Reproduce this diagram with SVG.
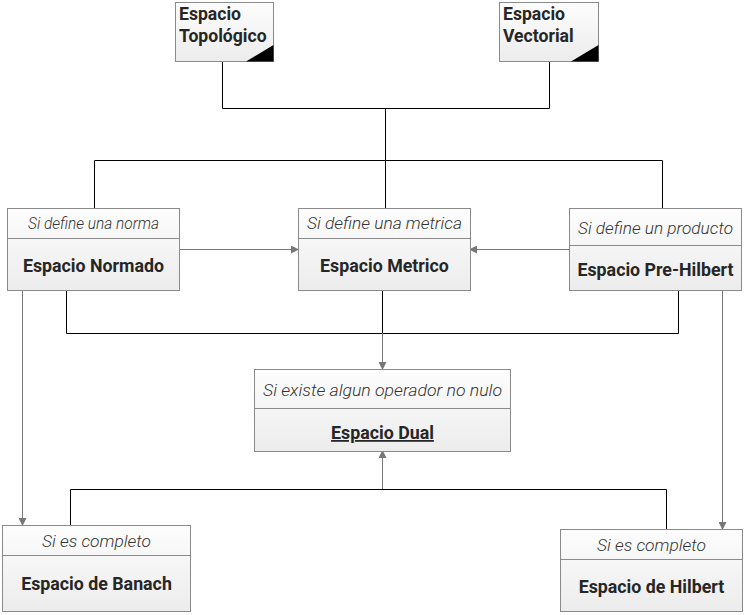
<svg xmlns="http://www.w3.org/2000/svg" width="748" height="615" viewBox="0 0 748 615">
<defs>
<linearGradient id="g" x1="0" y1="0" x2="0" y2="1"><stop offset="0" stop-color="#fdfdfd"/><stop offset="1" stop-color="#ececec"/></linearGradient>
<marker id="ah" markerWidth="8" markerHeight="8" refX="7" refY="4" orient="auto" markerUnits="userSpaceOnUse"><path d="M0,0 L8,4 L0,8 Z" fill="#777"/></marker>
</defs>
<style>
.box{fill:url(#g);stroke:#8a8a8a;stroke-width:1}
.div{stroke:#8a8a8a;stroke-width:1}
.hd{font-family:Roboto,"Liberation Sans",sans-serif;font-style:italic;font-weight:300;font-size:16px;fill:#333;text-anchor:middle}
.tt{font-family:Roboto,"Liberation Sans",sans-serif;font-weight:bold;font-size:17.8px;fill:#262626;text-anchor:middle}
.tl{font-family:Roboto,"Liberation Sans",sans-serif;font-weight:bold;font-size:17.6px;fill:#262626}
.blk{fill:none;stroke:#000;stroke-width:1}
.gry{fill:none;stroke:#777;stroke-width:1;marker-end:url(#ah)}
</style>
<g id="connectors">
<path class="blk" d="M222.5,61 V108.5 H549.5 V61"/>
<path class="blk" d="M385.5,108 V160.5"/>
<path class="blk" d="M94.5,208 V160.5 H662.5 V208"/>
<path class="blk" d="M385.5,160 V208"/>
<path class="gry" d="M179,249.5 H298"/>
<path class="gry" d="M569,249.5 H470"/>
<path class="blk" d="M66.5,290 V333.5 H678.5 V290"/>
<path class="blk" d="M382.5,290 V333"/>
<path class="gry" d="M382.5,333 V369"/>
<path class="gry" d="M22.5,290 V525"/>
<path class="gry" d="M722.5,290 V529"/>
<path class="blk" d="M70.5,525 V489.5 H666.5 V529"/>
<path class="gry" d="M382.5,489 V451"/>
</g>
<g id="topologico">
<rect class="box" x="175.5" y="2.5" width="98" height="59"/>
<polygon points="246,61.5 273.5,61.5 273.5,45" fill="#000"/>
<text class="tl" x="179" y="20">Espacio</text>
<text class="tl" x="179" y="42">Topológico</text>
</g>
<g id="vectorial">
<rect class="box" x="499.5" y="2.5" width="99" height="59"/>
<polygon points="571,61.5 598.5,61.5 598.5,45" fill="#000"/>
<text class="tl" x="503" y="20">Espacio</text>
<text class="tl" x="503" y="42">Vectorial</text>
</g>
<g id="normado">
<rect class="box" x="7.5" y="208.5" width="172" height="82"/>
<line class="div" x1="7.5" y1="238.5" x2="179.5" y2="238.5"/>
<text class="hd" x="93.5" y="229" textLength="131" lengthAdjust="spacingAndGlyphs">Si define una norma</text>
<text class="tt" x="93.5" y="272">Espacio Normado</text>
</g>
<g id="metrico">
<rect class="box" x="298.5" y="208.5" width="172" height="82"/>
<line class="div" x1="298.5" y1="238.5" x2="470.5" y2="238.5"/>
<text class="hd" x="384.5" y="229" textLength="155" lengthAdjust="spacingAndGlyphs">Si define una metrica</text>
<text class="tt" x="384.5" y="272">Espacio Metrico</text>
</g>
<g id="prehilbert">
<rect class="box" x="569.5" y="208.5" width="172" height="82"/>
<line class="div" x1="569.5" y1="245.5" x2="741.5" y2="245.5"/>
<text class="hd" x="655.5" y="234" textLength="155" lengthAdjust="spacingAndGlyphs">Si define un producto</text>
<text class="tt" x="655.5" y="276">Espacio Pre-Hilbert</text>
</g>
<g id="dual">
<rect class="box" x="254.5" y="369.5" width="256" height="82"/>
<line class="div" x1="254.5" y1="408.5" x2="510.5" y2="408.5"/>
<text class="hd" x="382.5" y="396" textLength="239" lengthAdjust="spacingAndGlyphs">Si existe algun operador no nulo</text>
<text class="tt" x="382.5" y="439" text-decoration="underline">Espacio Dual</text>
</g>
<g id="banach">
<rect class="box" x="2.5" y="525.5" width="188" height="86"/>
<line class="div" x1="2.5" y1="555.5" x2="190.5" y2="555.5"/>
<text class="hd" x="96.5" y="547" textLength="109" lengthAdjust="spacingAndGlyphs">Si es completo</text>
<text class="tt" x="96.5" y="590">Espacio de Banach</text>
</g>
<g id="hilbert">
<rect class="box" x="560.5" y="529.5" width="182" height="82"/>
<line class="div" x1="560.5" y1="559.5" x2="742.5" y2="559.5"/>
<text class="hd" x="651.5" y="551" textLength="109" lengthAdjust="spacingAndGlyphs">Si es completo</text>
<text class="tt" x="651.5" y="593">Espacio de Hilbert</text>
</g>
</svg>
